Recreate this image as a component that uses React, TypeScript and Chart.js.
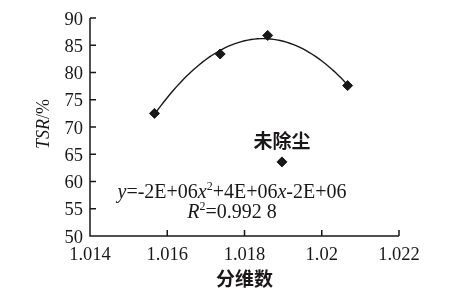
import React, { useEffect, useRef } from "react";
import { Chart, registerables } from "chart.js";

Chart.register(...registerables);

// Data
const fractalDim = [1.01567, 1.01737, 1.0186, 1.02067];
const tsrValues = [72.5, 83.4, 86.8, 77.6];
const undustedX = [1.01897];
const undustedY = [63.6];
const undustedLabel = "未除尘";
const xTicks = [1.014, 1.016, 1.018, 1.02, 1.022];
const yTicks = [50, 55, 60, 65, 70, 75, 80, 85, 90];
const xTitle = "分维数";
const eqLine1: [string, string][] = [
  ["i", "y"], ["n", "=-2E+06"], ["i", "x"], ["s", "2"], ["n", "+4E+06"], ["i", "x"], ["n", "-2E+06"],
];
const eqLine2: [string, string][] = [["i", "R"], ["s", "2"], ["n", "=0.992 8"]];

// quadratic least squares trend (like a spreadsheet trendline)
function quadFit(xs: number[], ys: number[]) {
  const m = xs.reduce((a, b) => a + b, 0) / xs.length;
  const u = xs.map((x) => x - m);
  let S = [0, 0, 0, 0, 0];
  let T = [0, 0, 0];
  u.forEach((t, i) => {
    for (let k = 0; k < 5; k++) S[k] += Math.pow(t, k);
    for (let k = 0; k < 3; k++) T[k] += Math.pow(t, k) * ys[i];
  });
  const A = [
    [S[0], S[1], S[2], T[0]],
    [S[1], S[2], S[3], T[1]],
    [S[2], S[3], S[4], T[2]],
  ];
  for (let c = 0; c < 3; c++) {
    for (let r = c + 1; r < 3; r++) {
      const f = A[r][c] / A[c][c];
      for (let k = c; k < 4; k++) A[r][k] -= f * A[c][k];
    }
  }
  const coef = [0, 0, 0];
  for (let r = 2; r >= 0; r--) {
    let s = A[r][3];
    for (let k = r + 1; k < 3; k++) s -= A[r][k] * coef[k];
    coef[r] = s / A[r][r];
  }
  return (x: number) => coef[0] + coef[1] * (x - m) + coef[2] * (x - m) * (x - m);
}

const fit = quadFit(fractalDim, tsrValues);
const xmin = Math.min(...fractalDim);
const xmax = Math.max(...fractalDim);
const trend = Array.from({ length: 61 }, (_, i) => {
  const x = xmin + ((xmax - xmin) * i) / 60;
  return { x, y: fit(x) };
});

const INK = "#1a1718";
const SERIF = "'Liberation Serif', 'DejaVu Serif', serif";
const CJK = "'Noto Sans CJK SC', sans-serif";
const fmtX = (v: number) => String(Number(v.toFixed(3)));

function drawRich(ctx: CanvasRenderingContext2D, segs: [string, string][], cx: number, y: number, size: number) {
  const fontFor = (t: string) =>
    t === "i" ? `italic ${size}px ${SERIF}` : t === "s" ? `${Math.round(size * 0.6)}px ${SERIF}` : `${size}px ${SERIF}`;
  let w = 0;
  segs.forEach(([t, s]) => {
    ctx.font = fontFor(t);
    w += ctx.measureText(s).width;
  });
  let x = cx - w / 2;
  ctx.textAlign = "left";
  ctx.textBaseline = "alphabetic";
  segs.forEach(([t, s]) => {
    ctx.font = fontFor(t);
    ctx.fillText(s, x, t === "s" ? y - size * 0.38 : y);
    x += ctx.measureText(s).width;
  });
}

const decorPlugin = {
  id: "decor",
  afterDraw(chart: any) {
    const { ctx, chartArea } = chart;
    const xs = chart.scales.x;
    const ys = chart.scales.y;
    const L = xs.getPixelForValue(xTicks[0]);
    const R = xs.getPixelForValue(xTicks[xTicks.length - 1]);
    const B = ys.getPixelForValue(yTicks[0]);
    const T = ys.getPixelForValue(yTicks[yTicks.length - 1]);
    ctx.save();
    ctx.strokeStyle = INK;
    ctx.lineWidth = 1.5;
    ctx.beginPath();
    ctx.moveTo(L, T);
    ctx.lineTo(L, B);
    ctx.lineTo(R, B);
    yTicks.slice(1).forEach((v) => {
      const p = ys.getPixelForValue(v);
      ctx.moveTo(L, p);
      ctx.lineTo(L + 6, p);
    });
    xTicks.slice(1).forEach((v) => {
      const p = xs.getPixelForValue(v);
      ctx.moveTo(p, B);
      ctx.lineTo(p, B - 6);
    });
    ctx.stroke();

    ctx.fillStyle = INK;
    // tick labels
    ctx.font = `18.5px ${SERIF}`;
    ctx.textBaseline = "alphabetic";
    ctx.textAlign = "right";
    yTicks.forEach((v) => {
      ctx.fillText(String(v), L - 7, ys.getPixelForValue(v) + 6.5);
    });
    ctx.textAlign = "center";
    xTicks.forEach((v) => {
      ctx.fillText(fmtX(v), xs.getPixelForValue(v), B + 24);
    });

    // x title
    ctx.font = `bold 19px ${CJK}`;
    ctx.textAlign = "center";
    ctx.textBaseline = "middle";
    ctx.fillText(xTitle, (chartArea.left + chartArea.right) / 2, 279);
    // annotation
    ctx.fillText(undustedLabel, xs.getPixelForValue(undustedX[0]), ys.getPixelForValue(undustedY[0]) - 21);

    // y title
    ctx.save();
    ctx.translate(44, (chartArea.top + chartArea.bottom) / 2 - 3);
    ctx.rotate(-Math.PI / 2);
    const a = "TSR";
    const b = "/%";
    ctx.font = `italic 18px ${SERIF}`;
    const wa = ctx.measureText(a).width;
    ctx.font = `18px ${SERIF}`;
    const wb = ctx.measureText(b).width;
    ctx.textAlign = "left";
    ctx.textBaseline = "middle";
    ctx.font = `italic 18px ${SERIF}`;
    ctx.fillText(a, -(wa + wb) / 2, 0);
    ctx.font = `18px ${SERIF}`;
    ctx.fillText(b, -(wa + wb) / 2 + wa, 0);
    ctx.restore();

    // equation
    drawRich(ctx, eqLine1, 232, 198, 20);
    drawRich(ctx, eqLine2, 232, 218, 20);
    ctx.restore();
  },
};

export default function App() {
  const ref = useRef<HTMLCanvasElement>(null);
  useEffect(() => {
    document.body.style.margin = "0";
    const chart = new Chart(ref.current!, {
      type: "scatter",
      data: {
        datasets: [
          {
            type: "line",
            data: trend,
            borderColor: INK,
            borderWidth: 1.4,
            pointRadius: 0,
            tension: 0,
            fill: false,
          } as any,
          {
            data: fractalDim.map((x, i) => ({ x, y: tsrValues[i] })),
            pointStyle: "rectRot",
            pointRadius: 5,
            borderWidth: 1,
            backgroundColor: INK,
            borderColor: INK,
          },
          {
            data: undustedX.map((x, i) => ({ x, y: undustedY[i] })),
            pointStyle: "rectRot",
            pointRadius: 5,
            borderWidth: 1,
            backgroundColor: INK,
            borderColor: INK,
          },
        ],
      },
      options: {
        animation: false,
        responsive: false,
        devicePixelRatio: 1,
        layout: { padding: { top: 18, right: 76, left: 0, bottom: 0 } },
        plugins: { legend: { display: false }, tooltip: { enabled: false } },
        scales: {
          x: {
            type: "linear",
            min: xTicks[0],
            max: xTicks[xTicks.length - 1],
            afterFit: (s: any) => { s.height = 61; },
            afterBuildTicks: (s: any) => { s.ticks = xTicks.map((v) => ({ value: v })); },
            grid: { display: false, drawTicks: false },
            border: { display: false },
            ticks: { display: false },
          },
          y: {
            min: yTicks[0],
            max: yTicks[yTicks.length - 1],
            afterFit: (s: any) => { s.width = 90; },
            afterBuildTicks: (s: any) => { s.ticks = yTicks.map((v) => ({ value: v })); },
            grid: { display: false, drawTicks: false },
            border: { display: false },
            ticks: { display: false },
          },
        },
      },
      plugins: [decorPlugin],
    });
    return () => chart.destroy();
  }, []);
  return <canvas ref={ref} width={475} height={297} />;
}
